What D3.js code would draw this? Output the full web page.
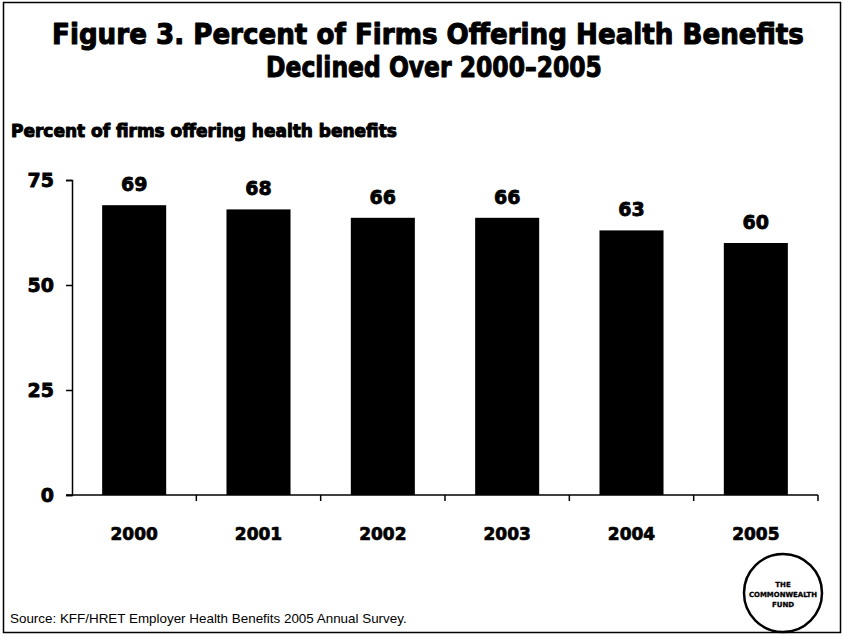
<!DOCTYPE html>
<html>
<head>
<meta charset="utf-8">
<script src="https://cdn.jsdelivr.net/npm/d3@7/dist/d3.min.js"></script>
<style>
  html, body { margin: 0; padding: 0; background: #fff; }
  svg { display: block; }
</style>
</head>
<body>
<svg id="chart" width="845" height="643"></svg>
<script>
// Survey results: share of firms offering health benefits, by year
const years = ["2000", "2001", "2002", "2003", "2004", "2005"];
const percents = [69, 68, 66, 66, 63, 60];
const yTicks = [0, 25, 50, 75];

const titleLines = [
  "Figure 3. Percent of Firms Offering Health Benefits",
  "Declined Over 2000\u20132005"
];
const subtitle = "Percent of firms offering health benefits";
const source = "Source: KFF/HRET Employer Health Benefits 2005 Annual Survey.";
const logoLines = ["THE", "COMMONWEALTH", "FUND"];

const heavy = "'DejaVu Sans', 'Liberation Sans', Arial, sans-serif";
const plain = "'Liberation Sans', Arial, sans-serif";

const svg = d3.select("#chart");

// Thicken bold glyphs with a matching outline
function embolden(sel, w) {
  return sel.attr("stroke", "#000").attr("stroke-width", w)
    .attr("stroke-linejoin", "round");
}

// Heavy text line, scaled horizontally to span a given width
function heavyLine(cx, cy, size, txt, width, anchor, stroke) {
  const g = svg.append("g");
  const t = embolden(g.append("text")
    .attr("font-family", heavy).attr("font-weight", "bold")
    .attr("font-size", size).attr("text-anchor", anchor)
    .text(txt), stroke);
  const s = width / t.node().getComputedTextLength();
  g.attr("transform", `translate(${cx},${cy}) scale(${s},1)`);
  return g;
}

// Outer frame
svg.append("rect")
  .attr("x", 3.5).attr("y", 2.5)
  .attr("width", 837).attr("height", 630)
  .attr("fill", "#fff")
  .attr("stroke", "#000")
  .attr("stroke-width", 1.5);

// Title
heavyLine(428, 44, 29, titleLines[0], 752, "middle", 1.1);
heavyLine(434, 77, 29, titleLines[1], 336, "middle", 1.1);

// Subtitle
heavyLine(11, 137, 17.2, subtitle, 386, "start", 1.0);

// Scales
const x = d3.scaleBand()
  .domain(years)
  .range([72, 818])
  .paddingInner(0.485)
  .paddingOuter(0.2425);

const y = d3.scaleLinear()
  .domain([0, 75])
  .range([495, 180]);

const rows = years.map((yr, i) => ({ yr, v: percents[i] }));

// Bars
svg.append("g")
  .selectAll("rect")
  .data(rows)
  .join("rect")
  .attr("x", d => x(d.yr))
  .attr("y", d => y(d.v))
  .attr("width", x.bandwidth())
  .attr("height", d => y(0) - y(d.v))
  .attr("fill", "#000");

// Value labels above bars
embolden(svg.append("g")
  .attr("font-family", heavy).attr("font-weight", "bold")
  .attr("font-size", 19).attr("text-anchor", "middle"), 0.8)
  .selectAll("text")
  .data(rows)
  .join("text")
  .attr("x", d => x(d.yr) + x.bandwidth() / 2)
  .attr("y", d => y(d.v) - 14)
  .text(d => d.v);

// Y axis
const yAxis = svg.append("g")
  .attr("transform", "translate(72,0)")
  .call(d3.axisLeft(y).tickValues(yTicks).tickSize(6).tickPadding(12));
yAxis.select(".domain").attr("stroke", "#000").attr("stroke-width", 1.5);
yAxis.selectAll(".tick line").attr("stroke", "#000").attr("stroke-width", 1.5);
embolden(yAxis.selectAll(".tick text")
  .attr("font-family", heavy).attr("font-weight", "bold")
  .attr("font-size", 19).attr("fill", "#000"), 0.8);

// X axis: baseline with ticks on the category boundaries
const x0 = x.range()[0], step = x.step();
const xAxisG = svg.append("g").attr("transform", `translate(0,${y(0)})`);
xAxisG.append("line")
  .attr("x1", 66).attr("x2", x.range()[1])
  .attr("stroke", "#000").attr("stroke-width", 1.5);
xAxisG.selectAll("line.tk")
  .data(d3.range(1, years.length + 1))
  .join("line")
  .attr("class", "tk")
  .attr("x1", i => x0 + i * step)
  .attr("x2", i => x0 + i * step)
  .attr("y1", 0).attr("y2", 6)
  .attr("stroke", "#000").attr("stroke-width", 1.5);

// Year labels
embolden(svg.append("g")
  .attr("font-family", heavy).attr("font-weight", "bold")
  .attr("font-size", 17).attr("text-anchor", "middle"), 0.7)
  .selectAll("text")
  .data(years)
  .join("text")
  .attr("x", d => x(d) + x.bandwidth() / 2)
  .attr("y", 540)
  .text(d => d);

// Source note
const src = svg.append("text")
  .attr("x", 10).attr("y", 623)
  .attr("font-family", plain).attr("font-size", 15).attr("fill", "#000")
  .text(source);
src.attr("font-size", (15 * 397 / src.node().getComputedTextLength()).toFixed(2));

// Fund logo
const logo = svg.append("g").attr("transform", "translate(783,593)");
logo.append("circle").attr("r", 39)
  .attr("fill", "#fff").attr("stroke", "#000").attr("stroke-width", 2.5);
embolden(logo.append("g")
  .attr("font-family", heavy).attr("font-weight", "bold")
  .attr("font-size", 7).attr("text-anchor", "middle"), 0.3)
  .selectAll("text")
  .data(logoLines)
  .join("text")
  .attr("y", (d, i) => -6 + i * 10)
  .attr("textLength", d => d.length > 4 ? 68 : null)
  .attr("lengthAdjust", "spacingAndGlyphs")
  .text(d => d);
</script>
</body>
</html>
